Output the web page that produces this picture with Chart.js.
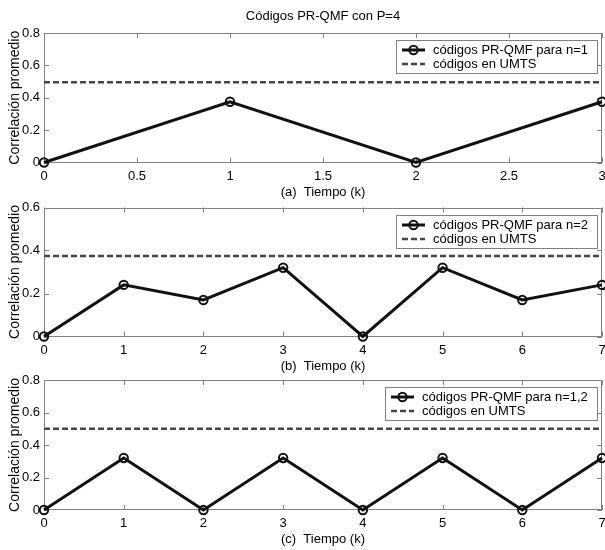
<!DOCTYPE html>
<html>
<head>
<meta charset="utf-8">
<script src="https://cdn.jsdelivr.net/npm/chart.js@4.4.1/dist/chart.umd.min.js"></script>
<style>
html,body{margin:0;padding:0;background:#fff;}
#wrap{position:relative;width:605px;height:550px;overflow:hidden;background:#fff;}
canvas{position:absolute;left:0;}
</style>
</head>
<body>
<div id="wrap">
<canvas id="c1" width="605" height="200" style="top:0px"></canvas>
<canvas id="c2" width="605" height="175" style="top:200px"></canvas>
<canvas id="c3" width="605" height="175" style="top:375px"></canvas>
</div>
<script>
// ---------- data ----------
const mainTitle = "Códigos PR-QMF con P=4";
const yTitle = "Correlación promedio";

const timeA = [0, 1, 2, 3];
const corrA = [0, 0.375, 0, 0.375];
const umtsA = 0.495;
const xTicksA = [0, 0.5, 1, 1.5, 2, 2.5, 3];
const yTicksA = [0, 0.2, 0.4, 0.6, 0.8];
const labelA = "códigos PR-QMF para n=1";
const xTitleA = "(a)  Tiempo (k)";

const timeB = [0, 1, 2, 3, 4, 5, 6, 7];
const corrB = [0, 0.24, 0.17, 0.32, 0, 0.32, 0.17, 0.24];
const umtsB = 0.375;
const xTicksB = [0, 1, 2, 3, 4, 5, 6, 7];
const yTicksB = [0, 0.2, 0.4, 0.6];
const labelB = "códigos PR-QMF para n=2";
const xTitleB = "(b)  Tiempo (k)";

const timeC = [0, 1, 2, 3, 4, 5, 6, 7];
const corrC = [0, 0.32, 0, 0.32, 0, 0.32, 0, 0.32];
const umtsC = 0.5;
const xTicksC = [0, 1, 2, 3, 4, 5, 6, 7];
const yTicksC = [0, 0.2, 0.4, 0.6, 0.8];
const labelC = "códigos PR-QMF para n=1,2";
const xTitleC = "(c)  Tiempo (k)";

const umtsLabel = "códigos en UMTS";

// ---------- styling ----------
const FONT = "'Liberation Sans', Arial, Helvetica, sans-serif";
const AXIS_COLOR = "#808080";
const LINE_COLOR = "#111111";
const DASH_COLOR = "#454545";
const DASH = [6, 3];

Chart.defaults.font.family = FONT;
Chart.defaults.font.size = 13;
Chart.defaults.color = "#000";
Chart.defaults.animation = false;

const framePlugin = {
  id: "frame",
  beforeDatasetsDraw(chart) {
    const {ctx, chartArea: a, scales: {x, y}} = chart;
    ctx.save();
    ctx.strokeStyle = AXIS_COLOR;
    ctx.lineWidth = 1;
    ctx.strokeRect(Math.round(a.left) + 0.5, Math.round(a.top) + 0.5,
                   Math.round(a.right - a.left) - 1, Math.round(a.bottom - a.top) - 1);
    ctx.beginPath();
    const L = 5;
    x.ticks.forEach(t => {
      const px = Math.round(x.getPixelForValue(t.value)) + 0.5;
      ctx.moveTo(px, a.bottom); ctx.lineTo(px, a.bottom - L);
      ctx.moveTo(px, a.top); ctx.lineTo(px, a.top + L);
    });
    y.ticks.forEach(t => {
      const py = Math.round(y.getPixelForValue(t.value)) + 0.5;
      ctx.moveTo(a.left, py); ctx.lineTo(a.left + L, py);
      ctx.moveTo(a.right, py); ctx.lineTo(a.right - L, py);
    });
    ctx.stroke();
    ctx.restore();
  },
  afterDraw(chart) {
    const {ctx, chartArea: a} = chart;
    const ds = chart.data.datasets;
    ctx.save();
    ctx.font = "13px " + FONT;
    const tw = Math.max(...ds.map(d => ctx.measureText(d.label).width));
    const w = Math.round(46 + tw), h = 33;
    const right = Math.round(a.right) - 5, top = Math.round(a.top) + 7;
    const left = right - w;
    ctx.fillStyle = "#fff";
    ctx.fillRect(left, top, w, h);
    ctx.strokeStyle = AXIS_COLOR;
    ctx.lineWidth = 1;
    ctx.strokeRect(left + 0.5, top + 0.5, w, h);
    const rows = [top + 10, top + 24];
    ds.forEach((d, i) => {
      const ry = rows[i];
      ctx.beginPath();
      ctx.strokeStyle = d.borderColor;
      ctx.lineWidth = d.borderWidth;
      ctx.setLineDash(d.borderDash || []);
      ctx.moveTo(left + 6, ry);
      ctx.lineTo(left + 29, ry);
      ctx.stroke();
      ctx.setLineDash([]);
      if (d.pointRadius > 0) {
        ctx.beginPath();
        ctx.lineWidth = d.pointBorderWidth;
        ctx.arc(left + 17.5, ry, d.pointRadius, 0, Math.PI * 2);
        ctx.stroke();
      }
      ctx.fillStyle = "#000";
      ctx.textBaseline = "middle";
      ctx.textAlign = "left";
      ctx.fillText(d.label, left + 37, ry + 0.5);
    });
    ctx.restore();
  }
};

function makePanel(id, p) {
  const canvasBottom = p.canvasTop + p.canvasHeight;
  const xHeight = canvasBottom - p.plotBottom;
  const titleCenter = p.plotBottom + 29.5;
  const xTitlePad = canvasBottom - titleCenter - 7.8;
  const points = p.time.map((t, i) => ({x: t, y: p.corr[i]}));
  const ref = [{x: p.xTicks[0], y: p.umts}, {x: p.xTicks[p.xTicks.length - 1], y: p.umts}];
  const plugins = {
    legend: {display: false},
    tooltip: {enabled: false},
    title: {display: false}
  };
  let padTop = p.plotTop - p.canvasTop;
  if (p.title) {
    plugins.title = {
      display: true, text: p.title, color: "#000", fullSize: false,
      font: {size: 13, weight: "normal", family: FONT},
      padding: {top: 9, bottom: padTop - 9 - 15.6}
    };
    padTop = 0;
  }
  return new Chart(document.getElementById(id), {
    type: "line",
    data: {
      datasets: [
        {
          label: p.label, data: points,
          borderColor: LINE_COLOR, borderWidth: 3,
          pointRadius: 4.2, pointBorderWidth: 2,
          pointBorderColor: LINE_COLOR, pointBackgroundColor: "rgba(0,0,0,0)",
          tension: 0, clip: false
        },
        {
          label: umtsLabel, data: ref,
          borderColor: DASH_COLOR, borderWidth: 2.5, borderDash: DASH,
          pointRadius: 0, tension: 0, clip: false
        }
      ]
    },
    options: {
      responsive: false,
      animation: false,
      layout: {padding: {left: 0, right: 3, top: padTop, bottom: 0}, autoPadding: false},
      plugins,
      scales: {
        x: {
          type: "linear",
          min: p.xTicks[0], max: p.xTicks[p.xTicks.length - 1],
          afterBuildTicks: s => { s.ticks = p.xTicks.map(v => ({value: v})); },
          afterFit: s => { s.height = xHeight; s.paddingLeft = 0; s.paddingRight = 0; },
          ticks: {padding: 6, autoSkip: false, maxRotation: 0, color: "#000",
                  font: {size: 13}, callback: v => String(v)},
          grid: {display: false, drawTicks: false},
          border: {display: false},
          title: {display: true, text: p.xTitle, color: "#000",
                  font: {size: 13}, padding: {top: 0, bottom: xTitlePad}}
        },
        y: {
          type: "linear",
          min: p.yTicks[0], max: p.yTicks[p.yTicks.length - 1],
          afterBuildTicks: s => { s.ticks = p.yTicks.map(v => ({value: v})); },
          afterFit: s => { s.width = 44; s.paddingTop = 0; s.paddingBottom = 0; },
          ticks: {padding: 4, color: "#000", font: {size: 13}, callback: v => String(v)},
          grid: {display: false, drawTicks: false},
          border: {display: false},
          title: {display: true, text: yTitle, color: "#000",
                  font: {size: 14}, padding: {top: 7, bottom: 0}}
        }
      }
    },
    plugins: [framePlugin]
  });
}

makePanel("c1", {canvasTop: 0, canvasHeight: 200, plotTop: 33, plotBottom: 162.5,
  time: timeA, corr: corrA, umts: umtsA, xTicks: xTicksA, yTicks: yTicksA,
  label: labelA, xTitle: xTitleA, title: mainTitle});
makePanel("c2", {canvasTop: 200, canvasHeight: 175, plotTop: 207.5, plotBottom: 336.5,
  time: timeB, corr: corrB, umts: umtsB, xTicks: xTicksB, yTicks: yTicksB,
  label: labelB, xTitle: xTitleB});
makePanel("c3", {canvasTop: 375, canvasHeight: 175, plotTop: 380, plotBottom: 510,
  time: timeC, corr: corrC, umts: umtsC, xTicks: xTicksC, yTicks: yTicksC,
  label: labelC, xTitle: xTitleC});
</script>
</body>
</html>
